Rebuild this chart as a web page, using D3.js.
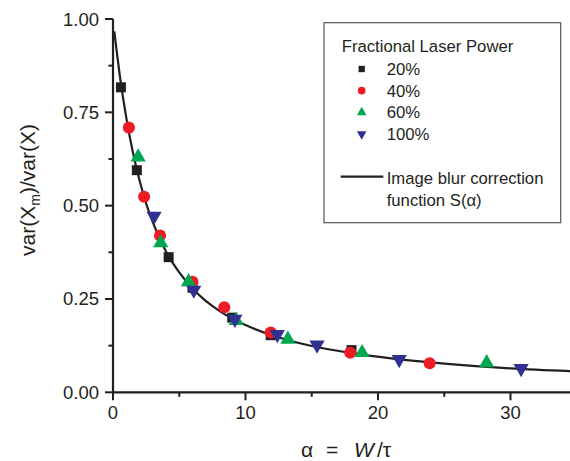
<!DOCTYPE html>
<html lang="en">
<head>
<meta charset="utf-8">
<script src="https://d3js.org/d3.v7.min.js"></script>
<style>
  body { margin: 0; background: #fff; }
  svg text { font-family: "Liberation Sans", Arial, sans-serif; fill: #231f20; }
</style>
</head>
<body>
<div id="chart"></div>
<script>
// measured points, [alpha, var(Xm)/var(X)]
const power20 = [[0.6, 0.817], [1.8, 0.595], [4.2, 0.362], [6.0, 0.28], [9.0, 0.20], [11.9, 0.153], [18.0, 0.113]];
const power40 = [[1.2, 0.709], [2.35, 0.524], [3.55, 0.42], [6.0, 0.296], [8.4, 0.228], [11.9, 0.16], [17.9, 0.106], [23.9, 0.078]];
const power60 = [[1.9, 0.63], [3.6, 0.40], [5.7, 0.296], [9.3, 0.192], [13.2, 0.142], [18.8, 0.106], [28.2, 0.079]];
const power100 = [[3.1, 0.472], [6.1, 0.274], [9.2, 0.196], [12.4, 0.155], [15.4, 0.127], [21.6, 0.088], [30.8, 0.064]];

// blur correction curve S(alpha)
const curveAlpha = [0.1, 0.25, 0.5, 0.75, 1, 1.5, 2, 2.5, 3, 4, 5, 6, 7, 8, 10, 12, 15, 18, 21, 25, 30, 35];
const curveS = [0.967, 0.922, 0.852, 0.791, 0.736, 0.643, 0.568, 0.506, 0.456, 0.377, 0.321, 0.278, 0.245, 0.219, 0.180, 0.153, 0.124, 0.105, 0.091, 0.077, 0.064, 0.056];

const xTicks = [0, 10, 20, 30];
const yTicks = [0, 0.25, 0.5, 0.75, 1.0];
const legendLabels = ["20%", "40%", "60%", "100%"];

const svg = d3.select("#chart").append("svg").attr("width", 570).attr("height", 461);

const x = d3.scaleLinear().domain([0, 35]).range([113, 576.75]);
const y = d3.scaleLinear().domain([0, 1]).range([392.3, 19]);
const ink = "#231f20";

// x axis
const xAxis = svg.append("g").attr("transform", "translate(0," + y(0) + ")");
xAxis.append("line").attr("x1", x(0) - 1).attr("x2", 570).attr("stroke", ink).attr("stroke-width", 2.2);
xAxis.selectAll(".minor").data([5, 15, 25]).enter().append("line")
  .attr("x1", d => x(d)).attr("x2", d => x(d)).attr("y1", 0).attr("y2", 4.5)
  .attr("stroke", ink).attr("stroke-width", 2);
xAxis.selectAll(".major").data(xTicks).enter().append("line")
  .attr("x1", d => x(d)).attr("x2", d => x(d)).attr("y1", 0).attr("y2", 8)
  .attr("stroke", ink).attr("stroke-width", 2);
xAxis.selectAll("text").data(xTicks).enter().append("text")
  .attr("x", d => x(d)).attr("y", 27).attr("text-anchor", "middle")
  .attr("font-size", "18.5px").text(d => d);

// y axis
const yAxis = svg.append("g").attr("transform", "translate(" + x(0) + ",0)");
yAxis.append("line").attr("y1", y(1)).attr("y2", y(0) + 1).attr("stroke", ink).attr("stroke-width", 2.2);
yAxis.selectAll(".minor").data([0.125, 0.375, 0.625, 0.875]).enter().append("line")
  .attr("y1", d => y(d)).attr("y2", d => y(d)).attr("x1", 0).attr("x2", -4.5)
  .attr("stroke", ink).attr("stroke-width", 2);
yAxis.selectAll(".major").data(yTicks).enter().append("line")
  .attr("y1", d => y(d)).attr("y2", d => y(d)).attr("x1", 0).attr("x2", -8)
  .attr("stroke", ink).attr("stroke-width", 2);
yAxis.selectAll("text").data(yTicks).enter().append("text")
  .attr("x", -14).attr("y", d => y(d) + 6.5).attr("text-anchor", "end")
  .attr("font-size", "18.5px").text(d => d3.format(".2f")(d));

// axis titles
const xt = svg.append("g").attr("font-size", "21px");
xt.append("text").attr("x", 301).attr("y", 457).text("\u03b1");
xt.append("text").attr("x", 326).attr("y", 457).text("=");
xt.append("text").attr("x", 354).attr("y", 457).attr("font-style", "italic").text("W");
xt.append("text").attr("x", 377).attr("y", 457).text("/\u03c4");

const yt = svg.append("text").attr("transform", "translate(35,190) rotate(-90)")
  .attr("text-anchor", "middle").attr("font-size", "21px");
yt.append("tspan").text("var(X");
yt.append("tspan").attr("font-size", "14px").attr("dy", 5).text("m");
yt.append("tspan").attr("dy", -5).text(")/var(X)");

// curve
const curveData = curveAlpha.map((a, i) => [a, curveS[i]]);
svg.append("path").datum(curveData)
  .attr("d", d3.line().x(d => x(d[0])).y(d => y(d[1])).curve(d3.curveMonotoneX))
  .attr("fill", "none").attr("stroke", ink).attr("stroke-width", 2.2);

// markers
const series = [
  { data: power20, shape: d3.symbolSquare, size: 100, color: "#231f20", rot: 0 },
  { data: power40, shape: d3.symbolCircle, size: 115, color: "#ed1c24", rot: 0 },
  { data: power60, shape: d3.symbolTriangle, size: 100, color: "#00a651", rot: 0 },
  { data: power100, shape: d3.symbolTriangle, size: 100, color: "#2e3192", rot: 180 }
];
series.forEach(s => {
  svg.append("g").selectAll("path").data(s.data).enter().append("path")
    .attr("d", d3.symbol().type(s.shape).size(s.size))
    .attr("transform", d => "translate(" + x(d[0]) + "," + y(d[1]) + ") rotate(" + s.rot + ")")
    .attr("fill", s.color);
});

// legend
const lg = svg.append("g");
lg.append("rect").attr("x", 324).attr("y", 22.7).attr("width", 236.7).attr("height", 200)
  .attr("fill", "#fff").attr("stroke", "#555").attr("stroke-width", 1.2);
lg.append("text").attr("x", 341.7).attr("y", 52).attr("font-size", "16.7px").text("Fractional Laser Power");
series.forEach((s, i) => {
  const yy = 69 + i * 21.7;
  lg.append("path").attr("d", d3.symbol().type(s.shape).size(s.size * 0.4))
    .attr("transform", "translate(361.7," + yy + ") rotate(" + s.rot + ")").attr("fill", s.color);
  lg.append("text").attr("x", 386.7).attr("y", yy + 6).attr("font-size", "16.7px").text(legendLabels[i]);
});
lg.append("line").attr("x1", 340.7).attr("x2", 383.3).attr("y1", 176.7).attr("y2", 176.7)
  .attr("stroke", ink).attr("stroke-width", 2.2);
lg.append("text").attr("x", 386.7).attr("y", 183.5).attr("font-size", "16.7px").text("Image blur correction");
lg.append("text").attr("x", 386.7).attr("y", 205.5).attr("font-size", "16.7px").text("function S(\u03b1)");
</script>
</body>
</html>
